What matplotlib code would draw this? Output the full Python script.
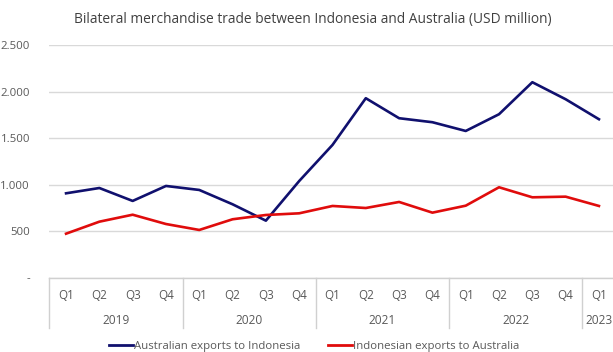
import matplotlib
matplotlib.use("Agg")
import matplotlib.pyplot as plt
from matplotlib.lines import Line2D
from matplotlib.ticker import FuncFormatter

plt.rcParams["font.family"] = ["Open Sans", "DejaVu Sans"]

quarters = ["Q1", "Q2", "Q3", "Q4"] * 4 + ["Q1"]
years = ["2019", "2020", "2021", "2022", "2023"]
year_counts = [4, 4, 4, 4, 1]

aus_to_idn = [906, 963, 824, 985, 942, 788, 612, 1038,
              1426, 1928, 1713, 1670, 1576, 1756, 2100, 1917, 1702]
idn_to_aus = [472, 601, 676, 576, 512, 627, 673, 691,
              770, 748, 813, 698, 773, 971, 863, 870, 770]

BLUE = "#10106e"
RED = "#e00c0c"
GREY = "#595959"

W, H = 613, 352
fig = plt.figure(figsize=(W / 100, H / 100), dpi=100)
ax = fig.add_axes([49.4 / W, 1 - 277.6 / H, 566.2 / W, (277.6 - 45) / H])

x = list(range(len(quarters)))
ax.plot(x, aus_to_idn, color=BLUE, lw=1.9, solid_joinstyle="round")
ax.plot(x, idn_to_aus, color=RED, lw=1.9, solid_joinstyle="round")

ax.set_xlim(-0.5, len(quarters) - 0.5)
ax.set_ylim(0, 2500)
ax.set_yticks([0, 500, 1000, 1500, 2000, 2500])
ax.yaxis.set_major_formatter(FuncFormatter(
    lambda v, _: "-" if v == 0 else f"{int(v):,}".replace(",", ".")))
ax.tick_params(axis="y", length=0, pad=14, labelsize=8.2, labelcolor=GREY)
ax.tick_params(axis="x", length=0, labelbottom=False)
ax.grid(axis="y", color="#d9d9d9", lw=1)
for s in ["top", "right", "left"]:
    ax.spines[s].set_visible(False)
ax.spines["bottom"].set_color("#d0d0d0")
ax.spines["bottom"].set_linewidth(1)

# two-level category axis
px = 1 / 100 * 72  # points per pixel
for i, q in enumerate(quarters):
    ax.annotate(q, (i, 0), xycoords=("data", "axes fraction"),
                xytext=(0, -17.5 * px), textcoords="offset points",
                ha="center", va="center", fontsize=8.4, color=GREY)
start = 0
bounds = [-0.5]
for yr, n in zip(years, year_counts):
    mid = start + (n - 1) / 2
    ax.annotate(yr, (mid, 0), xycoords=("data", "axes fraction"),
                xytext=(0, -42.5 * px), textcoords="offset points",
                ha="center", va="center", fontsize=8.6, color=GREY)
    start += n
    bounds.append(start - 0.5)
for b in bounds:
    ax.add_line(Line2D([b, b], [0, -50 / (277.6 - 45)], color="#d0d0d0", lw=1,
                       transform=ax.get_xaxis_transform(), clip_on=False))

fig.text(0.510, 1 - 20 / H,
         "Bilateral merchandise trade between Indonesia and Australia (USD million)",
         ha="center", va="center", fontsize=9.9, color="#404040")

handles = [Line2D([], [], color=BLUE, lw=2.0), Line2D([], [], color=RED, lw=2.0)]
fig.legend(handles, ["Australian exports to Indonesia", "Indonesian exports to Australia"],
           loc="center", bbox_to_anchor=(314 / W, 1 - 346 / H), ncol=2, frameon=False,
           fontsize=8.2, labelcolor=GREY, handlelength=2.1, handletextpad=0.1,
           columnspacing=2.4, borderpad=0)

fig.savefig("out.png", dpi=100)
